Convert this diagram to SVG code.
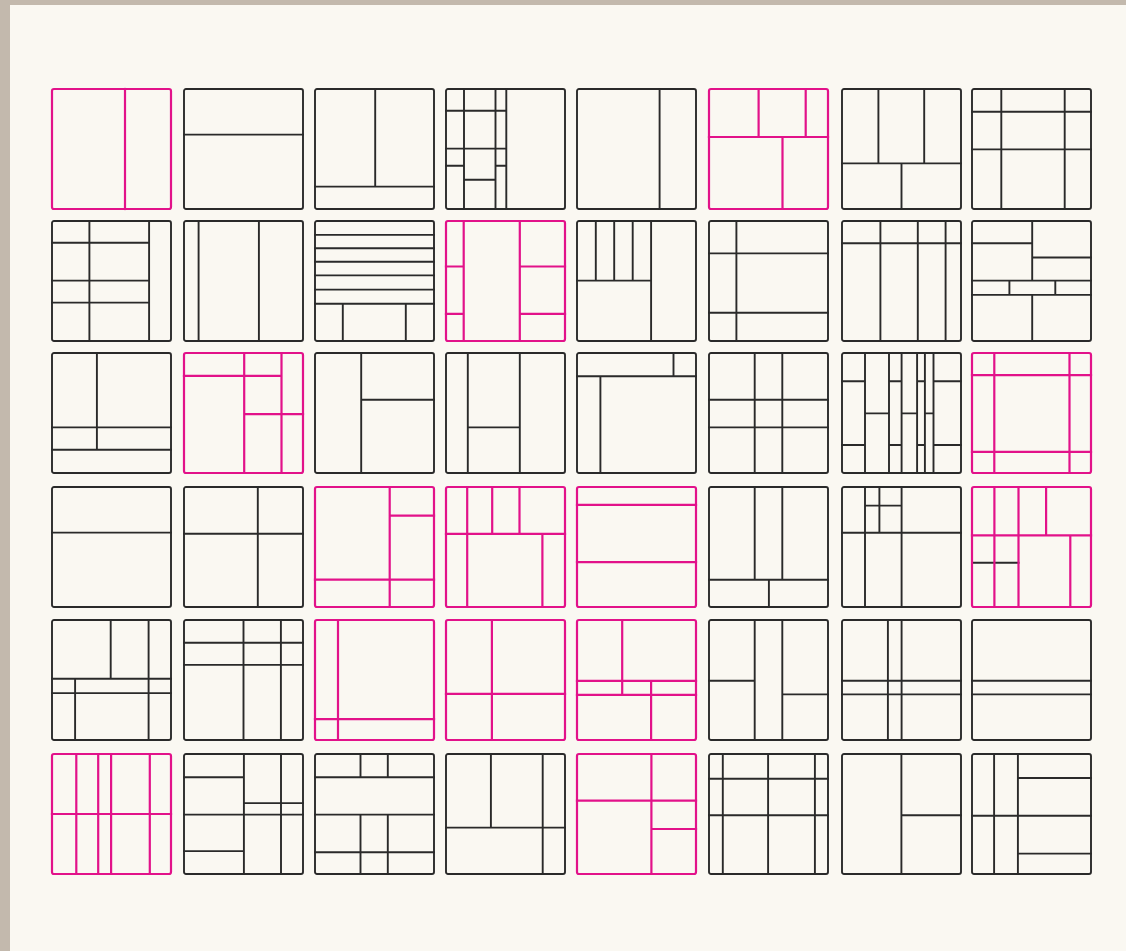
<svg xmlns="http://www.w3.org/2000/svg" width="1126" height="951" viewBox="0 0 1126 951">
<style>
.k{fill:none;stroke:#2a2a2a;stroke-width:1.9;stroke-linecap:square}
.m{fill:none;stroke:#e2128a;stroke-width:2.2;stroke-linecap:square}
</style>
<defs>
<rect id="fr" x="0" y="0" width="119" height="120" rx="2"/>
</defs>
<rect x="0" y="0" width="1126" height="951" fill="#faf8f2"/>
<rect x="0" y="0" width="10" height="951" fill="#c3b9ad"/>
<rect x="0" y="0" width="1126" height="5" fill="#c3b9ad"/>
<g id="tiles">
<!-- row 1 -->
<g id="t1" transform="translate(52,89)" class="m"><use href="#fr"/><path d="M73 0V120"/></g>
<g id="t2" transform="translate(184,89)" class="k"><use href="#fr"/><path d="M0 45.6H119"/></g>
<g id="t3" transform="translate(315,89)" class="k"><use href="#fr"/><path d="M0 97.6H119M60.2 0V97.6"/></g>
<g id="t4" transform="translate(446,89)" class="k"><use href="#fr"/><path d="M18 0V120M49.5 0V120M60.3 0V120M0 21.8H60.3M0 59.6H60.3M0 76.8H18M49.5 76.8H60.3M18 90.8H49.5"/></g>
<g id="t5" transform="translate(577,89)" class="k"><use href="#fr"/><path d="M82.6 0V120"/></g>
<g id="t6" transform="translate(709,89)" class="m"><use href="#fr"/><path d="M0 48H119M49.6 0V48M96.7 0V48M73.5 48V120"/></g>
<g id="t7" transform="translate(842,89)" class="k"><use href="#fr"/><path d="M0 74.4H119M36.4 0V74.4M82.2 0V74.4M59.5 74.4V120"/></g>
<g id="t8" transform="translate(972,89)" class="k"><use href="#fr"/><path d="M29.3 0V120M92.7 0V120M0 22.8H119M0 60.4H119"/></g>
<!-- row 2 -->
<g id="t9" transform="translate(52,221)" class="k"><use href="#fr"/><path d="M37.4 0V120M97.1 0V120M0 21.8H97.1M0 59.6H97.1M0 81.6H97.1"/></g>
<g id="t10" transform="translate(184,221)" class="k"><use href="#fr"/><path d="M14.6 0V120M74.9 0V120"/></g>
<g id="t11" transform="translate(315,221)" class="k"><use href="#fr"/><path d="M0 13.9H119M0 27.2H119M0 40.8H119M0 54.4H119M0 68.6H119M0 82.8H119M27.8 82.8V120M90.8 82.8V120"/></g>
<g id="t12" transform="translate(446,221)" class="m"><use href="#fr"/><path d="M17.7 0V120M73.8 0V120M0 45.5H17.7M0 92.9H17.7M73.8 45.5H119M73.8 92.9H119"/></g>
<g id="t13" transform="translate(577,221)" class="k"><use href="#fr"/><path d="M74.1 0V120M0 59.6H74.1M18.8 0V59.6M37.2 0V59.6M55.7 0V59.6"/></g>
<g id="t14" transform="translate(709,221)" class="k"><use href="#fr"/><path d="M27.4 0V120M0 32.4H119M0 91.8H119"/></g>
<g id="t15" transform="translate(842,221)" class="k"><use href="#fr"/><path d="M0 22.2H119M38.4 0V120M75.8 0V120M103.6 0V120"/></g>
<g id="t16" transform="translate(972,221)" class="k"><use href="#fr"/><path d="M0 59.6H119M0 73.9H119M60.2 0V59.6M60.2 73.9V120M0 22.2H60.2M60.2 36.5H119M37.4 59.6V73.9M83.3 59.6V73.9"/></g>
<!-- row 3 -->
<g id="t17" transform="translate(52,353)" class="k"><use href="#fr"/><path d="M0 74.4H119M0 96.7H119M44.9 0V96.7"/></g>
<g id="t18" transform="translate(184,353)" class="m"><use href="#fr"/><path d="M60.2 0V120M97.5 0V120M0 22.8H97.5M60.2 61.2H119"/></g>
<g id="t19" transform="translate(315,353)" class="k"><use href="#fr"/><path d="M46.2 0V120M46.2 46.8H119"/></g>
<g id="t20" transform="translate(446,353)" class="k"><use href="#fr"/><path d="M21.8 0V120M73.8 0V120M21.8 74.4H73.8"/></g>
<g id="t21" transform="translate(577,353)" class="k"><use href="#fr"/><path d="M0 23.3H119M96.5 0V23.3M23.4 23.3V120"/></g>
<g id="t22" transform="translate(709,353)" class="k"><use href="#fr"/><path d="M45.7 0V120M73.3 0V120M0 46.7H119M0 74.4H119"/></g>
<g id="t23" transform="translate(842,353)" class="k"><use href="#fr"/><path d="M23 0V120M47 0V120M59.6 0V120M75.1 0V120M82.9 0V120M91.5 0V120M0 28.3H23M47 28.3H59.6M75.1 28.3H82.9M91.5 28.3H119M23 60.4H47M59.6 60.4H75.1M82.9 60.4H91.5M0 92H23M47 92H59.6M75.1 92H82.9M91.5 92H119"/></g>
<g id="t24" transform="translate(972,353)" class="m"><use href="#fr"/><path d="M22.3 0V120M97.5 0V120M0 22.2H119M0 98.9H119"/></g>
<!-- row 4 -->
<g id="t25" transform="translate(52,487)" class="k"><use href="#fr"/><path d="M0 45.6H119"/></g>
<g id="t26" transform="translate(184,487)" class="k"><use href="#fr"/><path d="M73.8 0V120M0 46.8H119"/></g>
<g id="t27" transform="translate(315,487)" class="m"><use href="#fr"/><path d="M74.7 0V120M0 92.6H119M74.7 28.7H119"/></g>
<g id="t28" transform="translate(446,487)" class="m"><use href="#fr"/><path d="M0 46.8H119M21.2 0V120M46.2 0V46.8M73.5 0V46.8M96.4 46.8V120"/></g>
<g id="t29" transform="translate(577,487)" class="m"><use href="#fr"/><path d="M0 17.9H119M0 75.1H119"/></g>
<g id="t30" transform="translate(709,487)" class="k"><use href="#fr"/><path d="M0 92.8H119M45.7 0V92.8M73.3 0V92.8M59.9 92.8V120"/></g>
<g id="t31" transform="translate(842,487)" class="k"><use href="#fr"/><path d="M23 0V120M59.6 0V120M0 45.7H119M37.4 0V45.7M23 18.6H59.6"/></g>
<g id="t32" transform="translate(972,487)"><path class="k" d="M0 75.7H46.5"/><g class="m"><use href="#fr"/><path d="M0 48.4H119M22.4 0V120M46.5 0V120M74.1 0V48.4M98.3 48.4V120"/></g></g>
<!-- row 5 -->
<g id="t33" transform="translate(52,620)" class="k"><use href="#fr"/><path d="M0 58.8H119M0 73.1H119M58.7 0V58.8M96.6 0V120M23.1 58.8V120"/></g>
<g id="t34" transform="translate(184,620)" class="k"><use href="#fr"/><path d="M59.5 0V120M96.9 0V120M0 22.8H119M0 44.9H119"/></g>
<g id="t35" transform="translate(315,620)" class="m"><use href="#fr"/><path d="M23 0V120M0 99.1H119"/></g>
<g id="t36" transform="translate(446,620)" class="m"><use href="#fr"/><path d="M45.9 0V120M0 73.8H119"/></g>
<g id="t37" transform="translate(577,620)" class="m"><use href="#fr"/><path d="M0 60.8H119M0 74.8H119M45.2 0V74.8M74.1 60.8V120"/></g>
<g id="t38" transform="translate(709,620)" class="k"><use href="#fr"/><path d="M45.7 0V120M73.3 0V120M0 60.8H45.7M73.3 74.4H119"/></g>
<g id="t39" transform="translate(842,620)" class="k"><use href="#fr"/><path d="M45.9 0V120M59.6 0V120M0 60.8H119M0 74.4H119"/></g>
<g id="t40" transform="translate(972,620)" class="k"><use href="#fr"/><path d="M0 60.8H119M0 74.4H119"/></g>
<!-- row 6 -->
<g id="t41" transform="translate(52,754)" class="m"><use href="#fr"/><path d="M0 60H119M24.3 0V120M46.2 0V120M59.1 0V120M97.8 0V120"/></g>
<g id="t42" transform="translate(184,754)" class="k"><use href="#fr"/><path d="M59.9 0V120M97 0V120M0 60.6H119M0 23.2H59.9M0 97.1H59.9M59.9 49.1H119"/></g>
<g id="t43" transform="translate(315,754)" class="k"><use href="#fr"/><path d="M0 23.2H119M0 60.6H119M0 98.2H119M45.5 0V23.2M72.8 0V23.2M45.5 60.6V120M72.8 60.6V120"/></g>
<g id="t44" transform="translate(446,754)" class="k"><use href="#fr"/><path d="M44.9 0V73.6M0 73.6H119M96.7 0V120"/></g>
<g id="t45" transform="translate(577,754)" class="m"><use href="#fr"/><path d="M74.4 0V120M0 46.7H119M74.4 75H119"/></g>
<g id="t46" transform="translate(709,754)" class="k"><use href="#fr"/><path d="M13.8 0V120M59.1 0V120M105.9 0V120M0 24.8H119M0 61.3H119"/></g>
<g id="t47" transform="translate(842,754)" class="k"><use href="#fr"/><path d="M59.4 0V120M59.4 61.3H119"/></g>
<g id="t48" transform="translate(972,754)" class="k"><use href="#fr"/><path d="M22.1 0V120M45.9 0V120M0 61.7H119M45.9 24H119M45.9 99.6H119"/></g>
</g>
<g id="connectors"/>
</svg>
